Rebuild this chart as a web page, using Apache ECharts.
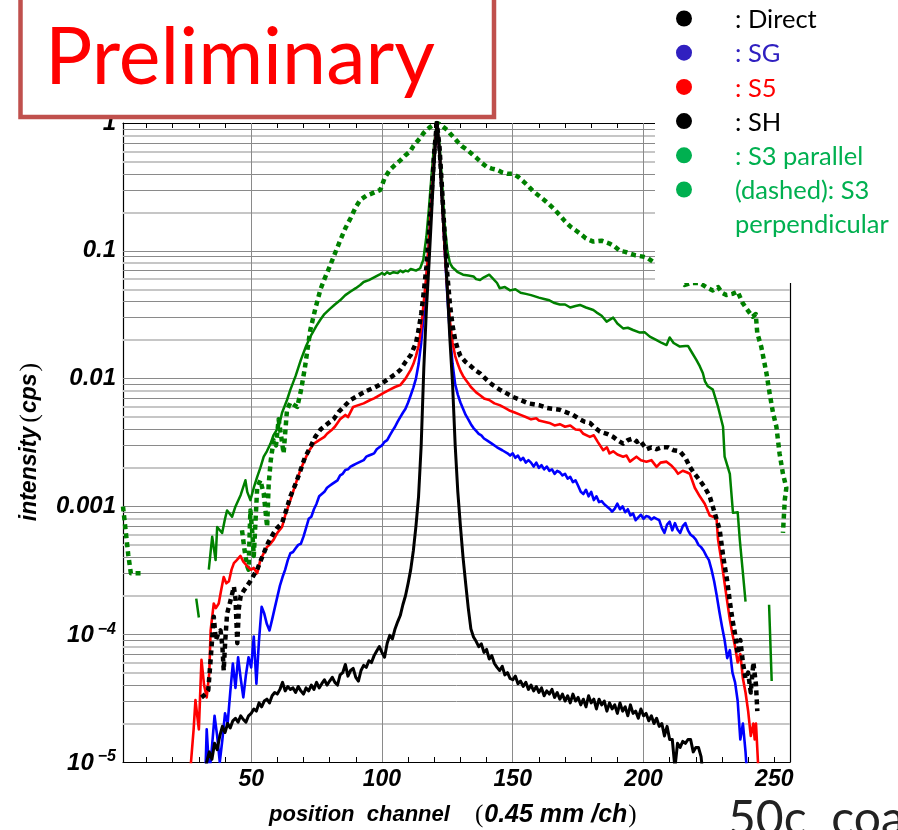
<!DOCTYPE html>
<html>
<head>
<meta charset="utf-8">
<script src="https://cdn.jsdelivr.net/npm/echarts@6/dist/echarts.min.js"></script>
<style>
  html, body { margin: 0; padding: 0; background: #fff; }
  #main { width: 898px; height: 830px; }
</style>
</head>
<body>
<div id="main"></div>
<script>
// channel, intensity (cps)
const direct = [
  [32, 6e-6], [33, 1.0e-5], [34, 1.2e-5], [35, 1.05e-5], [36, 1.4e-5], [37, 1.25e-5], [38, 1.6e-5], [39, 1.9e-5],
  [40, 1.7e-5], [41, 2.0e-5], [42, 1.85e-5], [43, 2.1e-5], [44, 2.2e-5], [45, 2.05e-5], [46, 2.3e-5], [47, 2.15e-5],
  [48, 2.05e-5], [49, 2.3e-5], [50, 2.4e-5], [51, 2.6e-5], [52, 2.5e-5], [53, 2.9e-5], [54, 2.7e-5], [55, 3.0e-5],
  [56, 3.1e-5], [57, 2.9e-5], [58, 3.3e-5], [59, 3.5e-5], [60, 3.4e-5], [61, 3.7e-5], [62, 4.2e-5], [63, 3.6e-5],
  [64, 3.9e-5], [65, 3.7e-5], [66, 3.8e-5], [67, 3.5e-5], [68, 3.9e-5], [69, 3.6e-5], [70, 3.4e-5], [71, 3.8e-5],
  [72, 3.6e-5], [73, 4.0e-5], [74, 3.7e-5], [75, 4.2e-5], [76, 3.8e-5], [77, 4.1e-5], [78, 4.4e-5], [79, 4.0e-5],
  [80, 4.3e-5], [81, 4.6e-5], [82, 4.2e-5], [83, 4.0e-5], [84, 4.8e-5], [85, 5.0e-5], [86, 5.8e-5], [87, 4.7e-5],
  [88, 5.2e-5], [89, 5.4e-5], [90, 4.6e-5], [91, 4.3e-5], [92, 5.2e-5], [93, 5.7e-5], [94, 5.5e-5], [95, 6.2e-5],
  [96, 6.0e-5], [97, 6.8e-5], [98, 7.4e-5], [99, 8.0e-5], [100, 7.2e-5], [101, 6.6e-5], [102, 8.5e-5], [103, 9.8e-5],
  [104, 9.2e-5], [105, 1.1e-4], [106, 1.25e-4], [107, 1.4e-4], [108, 1.7e-4], [109, 2.0e-4], [110, 2.5e-4], [111, 3.2e-4],
  [112, 4.5e-4], [113, 7e-4], [114, 1.2e-3], [115, 3e-3], [116, 1.2e-2], [117, 3.5e-2], [118, 8e-2], [119, 0.2],
  [120, 0.5], [121, 1.0], [122, 0.6], [123, 0.25], [124, 0.12], [125, 0.05], [126, 0.02], [127, 9e-3],
  [128, 3e-3], [129, 1.3e-3], [130, 7e-4], [131, 4e-4], [132, 2.5e-4], [133, 1.6e-4], [134, 1.1e-4], [135, 9.5e-5],
  [136, 8.8e-5], [137, 8.0e-5], [138, 8.4e-5], [139, 7.2e-5], [140, 7.6e-5], [141, 6.4e-5], [142, 6.8e-5], [143, 5.9e-5],
  [144, 5.5e-5], [145, 5.2e-5], [146, 5.6e-5], [147, 4.8e-5], [148, 5.0e-5], [149, 4.5e-5], [150, 4.4e-5], [151, 4.7e-5],
  [152, 4.1e-5], [153, 4.3e-5], [154, 3.9e-5], [155, 4.2e-5], [156, 3.7e-5], [157, 4.0e-5], [158, 3.6e-5], [159, 3.9e-5],
  [160, 3.5e-5], [161, 3.8e-5], [162, 3.3e-5], [163, 3.6e-5], [164, 3.4e-5], [165, 3.7e-5], [166, 3.2e-5], [167, 3.5e-5],
  [168, 3.1e-5], [169, 3.4e-5], [170, 3.0e-5], [171, 3.3e-5], [172, 2.9e-5], [173, 3.4e-5], [174, 3.0e-5], [175, 3.2e-5],
  [176, 2.8e-5], [177, 3.1e-5], [178, 2.7e-5], [179, 3.3e-5], [180, 2.9e-5], [181, 3.1e-5], [182, 2.6e-5], [183, 3.1e-5],
  [184, 2.8e-5], [185, 3.0e-5], [186, 2.5e-5], [187, 2.9e-5], [188, 2.6e-5], [189, 2.8e-5], [190, 2.4e-5], [191, 2.9e-5],
  [192, 2.5e-5], [193, 2.7e-5], [194, 2.3e-5], [195, 2.8e-5], [196, 2.4e-5], [197, 2.5e-5], [198, 2.2e-5], [199, 2.6e-5],
  [200, 2.3e-5], [201, 2.4e-5], [202, 2.1e-5], [203, 2.3e-5], [204, 2.0e-5], [205, 2.2e-5], [206, 1.9e-5], [207, 2.0e-5],
  [208, 1.6e-5], [209, 1.9e-5], [210, 1.5e-5], [211, 1.5e-5], [212, 9e-6], [213, 1.4e-5], [214, 1.3e-5], [215, 1.45e-5],
  [216, 1.4e-5], [217, 1.5e-5], [218, 1.5e-5], [219, 1.2e-5], [220, 1.3e-5], [221, 1.3e-5], [222, 1.1e-5], [223, 7e-6]
];
const sg = [
  [32.5, 8e-6], [33, 1.8e-5], [34, 8e-6], [35, 1.3e-5], [36, 2.3e-5], [37, 1.6e-5], [38, 1.0e-5], [39, 1.5e-5],
  [40, 2.4e-5], [41, 2.0e-5], [42, 3.5e-5], [43, 5.9e-5], [44, 3.8e-5], [45, 6.6e-5], [46, 4.5e-5], [47, 3.2e-5],
  [48, 4.8e-5], [49, 6.6e-5], [50, 5.5e-5], [51, 9.6e-5], [52, 4.1e-5], [53, 9e-5], [54, 1.64e-4], [55, 1.45e-4],
  [56, 1.2e-4], [57, 1.07e-4], [58, 1.3e-4], [59, 1.6e-4], [60, 1.96e-4], [61, 2.4e-4], [62, 2.8e-4], [63, 3.2e-4],
  [64, 3.8e-4], [65, 4.3e-4], [66, 4.4e-4], [67, 4.7e-4], [68, 5.0e-4], [69, 5.1e-4], [70, 5.8e-4], [71, 6.8e-4],
  [72, 8.0e-4], [73, 8.3e-4], [74, 9.5e-4], [75, 1.05e-3], [76, 1.2e-3], [77, 1.25e-3], [78, 1.3e-3], [79, 1.4e-3],
  [80, 1.45e-3], [81, 1.5e-3], [82, 1.55e-3], [83, 1.6e-3], [84, 1.75e-3], [85, 1.8e-3], [86, 1.93e-3], [87, 1.95e-3],
  [88, 2.05e-3], [89, 2.1e-3], [90, 2.15e-3], [91, 2.2e-3], [92, 2.25e-3], [93, 2.3e-3], [94, 2.45e-3], [95, 2.5e-3],
  [96, 2.55e-3], [97, 2.6e-3], [98, 2.8e-3], [99, 2.9e-3], [100, 3.0e-3], [101, 3.2e-3], [102, 3.3e-3], [103, 3.6e-3],
  [104, 3.9e-3], [105, 4.2e-3], [106, 4.6e-3], [107, 5.0e-3], [108, 5.4e-3], [109, 5.8e-3], [110, 6.5e-3], [111, 7.4e-3],
  [112, 8.5e-3], [113, 1.0e-2], [114, 1.3e-2], [115, 1.9e-2], [116, 3.2e-2], [117, 6e-2], [118, 0.12], [119, 0.25],
  [120, 0.55], [121, 1.0], [122, 0.6], [123, 0.25], [124, 0.1], [125, 0.045], [126, 0.022], [127, 0.013],
  [128, 9e-3], [129, 7.5e-3], [130, 6.5e-3], [131, 5.8e-3], [132, 5.2e-3], [133, 4.8e-3], [134, 4.4e-3], [135, 4.1e-3],
  [136, 3.9e-3], [137, 3.7e-3], [138, 3.6e-3], [139, 3.4e-3], [140, 3.3e-3], [142, 3.1e-3], [144, 2.9e-3], [146, 2.75e-3],
  [148, 2.6e-3], [149, 2.5e-3], [150, 2.6e-3], [151, 2.4e-3], [152, 2.5e-3], [153, 2.3e-3], [154, 2.4e-3], [155, 2.2e-3],
  [156, 2.3e-3], [157, 2.2e-3], [158, 2.05e-3], [159, 2.2e-3], [160, 2.0e-3], [161, 2.1e-3], [162, 1.95e-3], [163, 2.05e-3],
  [164, 1.9e-3], [165, 1.95e-3], [166, 1.8e-3], [167, 1.9e-3], [168, 1.85e-3], [169, 1.75e-3], [170, 1.8e-3], [171, 1.65e-3],
  [172, 1.7e-3], [173, 1.55e-3], [174, 1.6e-3], [175, 1.45e-3], [176, 1.3e-3], [177, 1.25e-3], [178, 1.35e-3], [179, 1.2e-3],
  [180, 1.3e-3], [181, 1.12e-3], [182, 1.2e-3], [183, 1.08e-3], [184, 1.1e-3], [185, 1.04e-3], [186, 1.0e-3], [187, 9.6e-4],
  [188, 9.1e-4], [189, 9.6e-4], [190, 1.05e-3], [191, 9.5e-4], [192, 1.0e-3], [193, 9.0e-4], [194, 9.5e-4], [195, 8.5e-4],
  [196, 8.8e-4], [197, 7.8e-4], [198, 8.2e-4], [199, 8.6e-4], [200, 8.0e-4], [201, 8.4e-4], [202, 8.3e-4], [203, 7.9e-4],
  [204, 8.2e-4], [205, 8.0e-4], [206, 7.8e-4], [207, 6.8e-4], [208, 6.2e-4], [209, 7.2e-4], [210, 7.6e-4], [211, 6.5e-4],
  [212, 7.4e-4], [213, 6.6e-4], [214, 6.2e-4], [215, 7.0e-4], [216, 7.4e-4], [217, 6.5e-4], [218, 6.0e-4], [219, 5.8e-4],
  [220, 5.5e-4], [221, 5.0e-4], [222, 4.8e-4], [223, 4.5e-4], [224, 4.1e-4], [225, 3.8e-4], [226, 3.2e-4], [227, 2.6e-4],
  [228, 2.0e-4], [229, 1.5e-4], [230, 1.15e-4], [231, 9e-5], [232, 6.5e-5], [233, 7.5e-5], [234, 5e-5], [235, 4.2e-5],
  [236, 3e-5], [237, 1.5e-5], [238, 2.0e-5], [239, 1.2e-5], [240, 6e-6]
];
const s5 = [
  [26.5, 7e-6], [27, 1e-5], [28, 1.8e-5], [28.7, 3.05e-5], [29.5, 2.2e-5], [30, 1.8e-5], [31, 6.3e-5], [32, 4e-5],
  [33, 3.2e-5], [34, 5e-5], [34.5, 1.07e-4], [35.7, 1.74e-4], [36.5, 1.6e-4], [37.6, 1.74e-4], [38.5, 2.2e-4], [39.5, 2.8e-4],
  [40.5, 2.5e-4], [41.5, 2.6e-4], [42.5, 3.2e-4], [43.4, 3.6e-4], [44.5, 3.8e-4], [45.9, 4.1e-4], [47, 3.7e-4], [48.5, 3.4e-4],
  [50, 3.2e-4], [51, 3.3e-4], [52.3, 3.0e-4], [53.5, 3.8e-4], [54.8, 4.3e-4], [56, 4.8e-4], [57, 5.0e-4], [58.6, 5.5e-4],
  [60, 6.2e-4], [61.8, 6.9e-4], [63, 8.5e-4], [65, 1.12e-3], [67, 1.5e-3], [68.8, 1.92e-3], [70, 2.2e-3], [72, 2.7e-3],
  [74, 3.1e-3], [76, 3.3e-3], [78, 3.5e-3], [79, 3.7e-3], [81, 4.0e-3], [82, 4.2e-3], [84, 4.8e-3], [86, 5.2e-3],
  [87, 5.0e-3], [89, 6.0e-3], [91, 6.2e-3], [93, 6.4e-3], [95.5, 6.8e-3], [97, 7.0e-3], [99, 7.4e-3], [101, 7.8e-3],
  [103, 8.2e-3], [105, 8.6e-3], [107, 8.9e-3], [109, 1.0e-2], [111, 1.17e-2], [112, 1.3e-2], [113, 1.5e-2], [114, 1.8e-2],
  [115, 2.5e-2], [116, 4e-2], [117, 6.5e-2], [118, 0.12], [119, 0.25], [120, 0.55], [121, 1.0], [122, 0.6],
  [123, 0.25], [124, 0.1], [125, 0.05], [126, 0.028], [127, 0.019], [128, 0.015], [129, 0.013], [130, 0.0115],
  [131, 0.0105], [132, 9.8e-3], [133, 9.2e-3], [134, 8.6e-3], [135, 8.2e-3], [136, 7.8e-3], [137.5, 7.4e-3], [139, 7.0e-3],
  [141, 6.8e-3], [143, 6.4e-3], [145, 6.2e-3], [147, 5.9e-3], [149, 5.6e-3], [151, 5.4e-3], [153, 5.2e-3], [155, 5.0e-3],
  [157, 4.8e-3], [159, 4.9e-3], [160, 4.7e-3], [162, 4.6e-3], [164, 4.5e-3], [166, 4.3e-3], [168, 4.4e-3], [170, 4.2e-3],
  [172, 4.3e-3], [174, 4.0e-3], [175.7, 3.97e-3], [177, 3.7e-3], [179.5, 3.5e-3], [181, 3.6e-3], [182.5, 3.2e-3], [184.6, 2.75e-3],
  [186, 2.9e-3], [187, 2.6e-3], [188.4, 2.7e-3], [190, 2.55e-3], [192.2, 2.45e-3], [193.5, 2.5e-3], [194.8, 2.24e-3], [197.3, 2.45e-3],
  [199, 2.3e-3], [201.1, 2.24e-3], [203, 2.3e-3], [205, 2.04e-3], [206.5, 2.2e-3], [208.8, 2.24e-3], [210.5, 2.1e-3], [212, 1.95e-3],
  [213.2, 1.8e-3], [215, 1.9e-3], [216.5, 1.85e-3], [217.7, 1.8e-3], [219.6, 1.4e-3], [221.5, 1.2e-3], [223.4, 1.05e-3], [225.3, 8.5e-4],
  [227.9, 8.1e-4], [228.5, 5.5e-4], [230, 3.5e-4], [231, 2.5e-4], [232, 1.8e-4], [233, 1.3e-4], [234, 1.0e-4], [235, 8e-5],
  [236, 6e-5], [237, 7e-5], [238, 4.5e-5], [239, 3.5e-5], [240, 2.5e-5], [241, 1.6e-5], [242, 2.0e-5], [242.5, 1.5e-5],
  [243, 2e-5], [244, 8e-6]
];
const sh = [
  [31, 3.2e-5], [32.5, 3.4e-5], [33.6, 3.65e-5], [34.5, 6.3e-5], [35.7, 1.37e-4], [36.5, 9e-5], [37.5, 1.02e-4], [38.3, 1.07e-4],
  [39, 8e-5], [39.5, 5.2e-5], [40.1, 9e-5], [40.8, 1.45e-4], [42, 1.8e-4], [43.4, 2.35e-4], [44, 1.9e-4], [44.7, 8.5e-5],
  [45.3, 1.6e-4], [46, 2.0e-4], [47.2, 2.2e-4], [48.5, 2.4e-4], [49.7, 2.6e-4], [51, 2.9e-4], [52.3, 3.2e-4], [53.5, 3.7e-4],
  [54.8, 4.3e-4], [56.5, 5.2e-4], [58.6, 6.2e-4], [60, 6.8e-4], [61.8, 7.4e-4], [63.5, 9.5e-4], [65, 1.2e-3], [67, 1.5e-3],
  [68.8, 1.9e-3], [70.5, 2.4e-3], [72.6, 2.9e-3], [74.5, 3.5e-3], [76.5, 4.0e-3], [79, 4.4e-3], [81.5, 4.8e-3], [83.5, 5.5e-3],
  [85.3, 6.0e-3], [88, 6.8e-3], [91, 7.4e-3], [94, 8.0e-3], [97, 8.5e-3], [99, 8.9e-3], [102, 9.8e-3], [105, 1.08e-2],
  [107, 1.17e-2], [109, 1.35e-2], [111, 1.53e-2], [113, 1.9e-2], [114, 2.4e-2], [115, 3.2e-2], [116, 4.8e-2], [117, 7.5e-2],
  [118, 0.14], [119, 0.28], [120, 0.6], [121, 1.0], [122, 0.65], [123, 0.3], [124, 0.13], [125, 0.065],
  [126, 0.038], [127, 0.026], [128, 0.02], [129, 0.017], [130, 0.015], [132, 0.0135], [134, 0.0125], [136, 0.0115],
  [137.5, 0.011], [140, 9.8e-3], [142, 9.0e-3], [145, 8.2e-3], [148, 7.6e-3], [150, 7.2e-3], [153, 6.8e-3], [156, 6.4e-3],
  [158, 6.3e-3], [160, 6.2e-3], [163, 5.9e-3], [165, 5.8e-3], [168, 5.7e-3], [171, 5.4e-3], [173, 5.2e-3], [175.7, 4.8e-3],
  [177.5, 4.6e-3], [179.5, 4.5e-3], [181, 4.2e-3], [183.3, 3.85e-3], [186, 3.7e-3], [188.4, 3.5e-3], [190, 3.3e-3], [192.2, 3.1e-3],
  [194, 3.3e-3], [196, 3.4e-3], [197.5, 3.2e-3], [198.6, 3.3e-3], [201.1, 2.8e-3], [203, 2.9e-3], [205, 2.8e-3], [207, 2.9e-3],
  [209.4, 2.9e-3], [211.5, 2.75e-3], [213.9, 2.7e-3], [216, 2.4e-3], [217.7, 2.04e-3], [219.5, 1.8e-3], [221.5, 1.6e-3], [223.5, 1.4e-3],
  [225.3, 1.2e-3], [227.2, 8.9e-4], [229.1, 6.6e-4], [230.5, 4e-4], [232, 2.6e-4], [233, 1.8e-4], [234, 1.3e-4], [235, 1.0e-4],
  [236, 7e-5], [237, 9e-5], [238, 6e-5], [239, 4.5e-5], [240, 5e-5], [241, 3.5e-5], [242, 6e-5], [243, 4e-5], [243.5, 2.5e-5]
];
const s3Parallel = [
  [29, 1.9e-4], [30, 1.35e-4], [31, null],
  [33.8, 3.2e-4], [35.1, 5.8e-4], [36.4, 3.8e-4], [37, 6.9e-4], [38.9, 6.2e-4], [40, 8e-4], [40.8, 9.3e-4], [42.7, 8.3e-4],
  [44, 1.0e-3], [46, 1.23e-3], [47.8, 1.6e-3], [48.5, 1.3e-3], [49.7, 1.12e-3], [51, 1.4e-3], [52.3, 1.7e-3], [53.5, 2.0e-3],
  [54.8, 2.45e-3], [56, 2.7e-3], [57.4, 3.1e-3], [58.5, 3.6e-3], [59.9, 4.0e-3], [61, 4.6e-3], [61.8, 5.4e-3], [63.7, 6.8e-3],
  [65, 8.2e-3], [67, 1.05e-2], [69, 1.4e-2], [71, 1.8e-2], [73, 2.2e-2], [75, 2.6e-2], [76.5, 2.9e-2], [78, 3.2e-2],
  [80, 3.5e-2], [82, 3.8e-2], [84, 4.1e-2], [86, 4.5e-2], [88, 4.8e-2], [90, 5.1e-2], [91.7, 5.4e-2], [93, 5.7e-2],
  [95, 5.9e-2], [97, 6.2e-2], [99, 6.5e-2], [100, 6.7e-2], [101, 6.5e-2], [102, 6.8e-2], [103, 6.6e-2], [104.4, 6.8e-2],
  [106, 6.7e-2], [107, 7.0e-2], [108, 6.8e-2], [109, 7.0e-2], [110, 6.9e-2], [111, 7.2e-2], [112, 7.1e-2], [113, 7.0e-2],
  [114.6, 7.3e-2], [115.8, 8.5e-2], [117, 0.13], [118, 0.22], [119, 0.4], [120, 0.7], [121, 1.0], [122, 0.7],
  [123, 0.35], [124, 0.16], [125, 0.1], [126, 0.08], [127, 0.074], [128, 0.071], [129, 0.068], [131, 0.065],
  [133, 0.064], [135, 0.063], [136, 0.06], [137.5, 0.059], [139, 0.062], [141, 0.065], [142, 0.062], [144, 0.056],
  [145, 0.051], [147, 0.052], [149, 0.049], [151, 0.05], [153, 0.047], [155, 0.046], [157, 0.045], [160, 0.043],
  [162, 0.042], [164, 0.041], [166, 0.039], [168, 0.038], [170, 0.038], [172, 0.036], [174, 0.037], [175.7, 0.0377],
  [178, 0.036], [180.8, 0.0344], [182, 0.033], [184, 0.031], [185.9, 0.0279], [188.4, 0.030], [190, 0.027], [192.2, 0.0247],
  [194, 0.025], [196, 0.024], [198.6, 0.0229], [200.5, 0.023], [202.4, 0.0213], [205, 0.02], [207, 0.019], [208.8, 0.0183],
  [210, 0.021], [211.5, 0.019], [213.9, 0.0178], [216, 0.018], [217, 0.018], [218.5, 0.016], [220.2, 0.014], [221.5, 0.0125],
  [222.7, 0.011], [223.5, 0.0095], [224.6, 8.7e-3], [226.5, 8.2e-3], [228.5, 6.0e-3], [230.4, 4.2e-3], [231, 2.45e-3], [233, 1.8e-3],
  [234.2, 8.9e-4], [236, 9e-4], [236.8, 5.5e-4], [238, 3e-4], [239, 1.8e-4], [240, null],
  [245, 1.7e-4], [246, null], [248, 1.7e-4], [249, 4.3e-5]
];
const s3Perpendicular = [
  [1, 1.0e-3], [2, 6.5e-4], [3, 4.2e-4], [4, 3e-4], [6, 3e-4], [8.5, 3e-4], [9, null],
  [46.5, 6.5e-4], [47.5, 4.5e-4], [48.5, 3.4e-4], [49, 3.2e-4], [49.7, 9.3e-4], [50.5, 6e-4], [51, 4.1e-4], [52.3, 1.4e-3],
  [53.5, 1.6e-3], [54.8, 1.26e-3], [56.1, 6.9e-4], [56.7, 1.5e-3], [57.5, 2.3e-3], [58.6, 3.3e-3], [59.5, 3.0e-3], [60.5, 4.8e-3],
  [61.5, 3.5e-3], [62.4, 2.6e-3], [63.7, 5.7e-3], [65, 6.5e-3], [66.5, 6.2e-3], [67.6, 6.0e-3], [69, 8e-3], [70.5, 1.2e-2],
  [72.6, 2.4e-2], [74.5, 3.5e-2], [76.5, 5e-2], [78, 6e-2], [80, 7.5e-2], [82, 9.5e-2], [84, 0.12], [86, 0.15],
  [88, 0.18], [90, 0.22], [91.7, 0.25], [94, 0.27], [96, 0.28], [99.4, 0.3], [101, 0.37], [103, 0.43],
  [105, 0.47], [107, 0.51], [109, 0.56], [110.8, 0.6], [112, 0.66], [113.3, 0.71], [115, 0.78], [115.8, 0.83],
  [117, 0.88], [118.4, 0.93], [120, 0.98], [121, 1.0], [122, 0.98], [123.5, 0.93], [125, 0.88], [126, 0.83],
  [127.5, 0.77], [129, 0.71], [130.5, 0.66], [132.4, 0.62], [134.5, 0.57], [136.3, 0.53], [138, 0.49], [140, 0.455],
  [142, 0.44], [144, 0.43], [146, 0.41], [148, 0.40], [150, 0.40], [152, 0.38], [154, 0.35], [156, 0.32],
  [158, 0.29], [160, 0.27], [162, 0.25], [164, 0.23], [166, 0.21], [168, 0.19], [170, 0.17], [172, 0.155],
  [174, 0.145], [176, 0.135], [178, 0.125], [180.8, 0.118], [184, 0.12], [187, 0.114], [189, 0.108], [191, 0.1],
  [193, 0.098], [194.8, 0.095], [197, 0.092], [199.8, 0.09], [201.5, 0.088], [203.7, 0.082], [205, 0.08], [207, 0.075],
  [209, 0.072], [212, 0.065], [214, 0.06], [215.8, 0.054], [218, 0.056], [221.5, 0.056], [224, 0.052], [226.5, 0.049],
  [228.5, 0.052], [230, 0.047], [231.7, 0.045], [234, 0.046], [236, 0.048], [237.9, 0.039], [239.5, 0.035], [241.7, 0.0305],
  [242.9, 0.032], [243.5, 0.0226], [245, 0.0178], [246, 0.014], [247, 0.011], [248.2, 7.7e-3], [249.5, 5.4e-3], [250.8, 4.2e-3],
  [252, 2.6e-3], [253.3, 1.8e-3], [254.6, 1.4e-3], [254, 1.12e-3], [253.3, 6.2e-4]
];

const xTickValues = [10, 20, 30, 40, 50, 60, 70, 80, 90, 100, 110, 120, 130, 140, 150, 160, 170, 180, 190, 200, 210, 220, 230, 240, 250];
const xLabelValues = [50, 100, 150, 200, 250];
const xGridValues = [50, 100, 150, 200];
const decades = [1e-5, 1e-4, 1e-3, 1e-2, 1e-1];
const mantissas = [1, 2, 3, 4, 5, 6, 7, 8, 9];
const lightMantissas = [2, 5, 6, 8];

const legendRows = [
  { text: ': Direct', color: '#000000' },
  { text: ': SG', color: '#3020c0' },
  { text: ': S5', color: '#ff0000' },
  { text: ': SH', color: '#000000' },
  { text: ': S3 parallel', color: '#00b050' },
  { text: '(dashed): S3', color: '#00b050' },
  { text: 'perpendicular', color: '#00b050', noDot: true }
];

const tickFont = '"Liberation Sans", Arial, sans-serif';
const boxFont = 'Lato, "Open Sans", sans-serif';
const X_MIN = 1, X_MAX = 256;

// gridlines like Mathematica's GridLines: one per mantissa in each decade
const gridLines = [];
decades.forEach(d => {
  mantissas.forEach(m => {
    if (d === 1e-5 && m === 1) return;
    const light = lightMantissas.indexOf(m) >= 0;
    const v = m * d;
    gridLines.push([
      { coord: [X_MIN, v], lineStyle: { color: light ? '#c6c6c6' : '#8a8a8a', width: light ? 2 : 1, type: 'solid' } },
      { coord: [X_MAX, v] }
    ]);
  });
});
xGridValues.forEach(v => {
  gridLines.push([
    { coord: [v, 1e-5], lineStyle: { color: '#8a8a8a', width: 1, type: 'solid' } },
    { coord: [v, 1] }
  ]);
});

function yLabel(v) {
  const e = Math.round(Math.log10(v));
  if (e === 0) return '1';
  if (e >= -3) return '0.' + '0'.repeat(-e - 1) + '1';
  return '{b|10}{s|\u2212' + (-e) + '}';
}

function lineSeries(name, data, color, width, dotted, z) {
  return {
    name: name,
    type: 'line',
    data: data,
    showSymbol: false,
    symbol: 'none',
    connectNulls: false,
    clip: true,
    z: z,
    lineStyle: {
      color: color,
      width: width,
      type: dotted ? [5, 4] : 'solid',
      cap: 'butt',
      join: 'round'
    }
  };
}

const legendGraphics = [];
legendRows.forEach((row, i) => {
  const cy = 18.5 + i * 34.2;
  if (!row.noDot) {
    legendGraphics.push({
      type: 'circle', shape: { cx: 684, cy: cy, r: 8 },
      style: { fill: row.color }, z: 101
    });
  }
  legendGraphics.push({
    type: 'text', x: 735, y: cy + 1.5,
    style: { text: row.text, fill: row.color, font: '25.5px ' + boxFont, verticalAlign: 'middle', align: 'left' },
    z: 101
  });
});

const chart = echarts.init(document.getElementById('main'));

const option = {
  backgroundColor: '#fff',
  animation: false,
  grid: { left: 123, top: 123, width: 667, height: 639 },
  xAxis: [
    {
      type: 'value', min: X_MIN, max: X_MAX, position: 'bottom',
      axisLine: { show: true, onZero: false, lineStyle: { color: '#000', width: 1.2 } },
      axisTick: { show: true, inside: true, length: 5, customValues: xTickValues, lineStyle: { color: '#000', width: 1 } },
      axisLabel: {
        customValues: xLabelValues, margin: 6,
        color: '#000', fontFamily: tickFont, fontSize: 23, fontWeight: 'bold', fontStyle: 'italic'
      },
      splitLine: { show: false }
    },
    {
      type: 'value', min: X_MIN, max: X_MAX, position: 'top',
      axisLine: { show: true, onZero: false, lineStyle: { color: '#000', width: 1.2 } },
      axisTick: { show: true, inside: true, length: 5, customValues: xTickValues, lineStyle: { color: '#000', width: 1 } },
      axisLabel: { show: false },
      splitLine: { show: false }
    }
  ],
  yAxis: [
    {
      type: 'log', logBase: 10, min: 1e-5, max: 1, position: 'left',
      axisLine: { show: true, onZero: false, lineStyle: { color: '#000', width: 1.2 } },
      axisTick: { show: false },
      splitLine: { show: false },
      axisLabel: {
        margin: 7, showMinLabel: true, showMaxLabel: true,
        color: '#000', fontFamily: tickFont, fontSize: 24, fontWeight: 'bold', fontStyle: 'italic',
        formatter: yLabel,
        rich: {
          b: { fontFamily: tickFont, fontSize: 24, fontWeight: 'bold', fontStyle: 'italic', color: '#000', verticalAlign: 'bottom' },
          s: { fontFamily: tickFont, fontSize: 16, fontWeight: 'bold', fontStyle: 'italic', color: '#000', verticalAlign: 'bottom', padding: [0, 0, 10, 4] }
        }
      }
    },
    {
      type: 'log', logBase: 10, min: 1e-5, max: 1, position: 'right',
      axisLine: { show: true, onZero: false, lineStyle: { color: '#000', width: 1.2 } },
      axisTick: { show: false },
      axisLabel: { show: false },
      splitLine: { show: false }
    }
  ],
  series: [
    {
      name: 'grid', type: 'line', data: [], z: 1, silent: true,
      markLine: { z: 1, silent: true, precision: 10, symbol: ['none', 'none'], label: { show: false }, animation: false, data: gridLines }
    },
    lineSeries('S3 perpendicular', s3Perpendicular, '#008000', 4.5, true, 10),
    lineSeries('S3 parallel', s3Parallel, '#008000', 2.5, false, 11),
    lineSeries('SG', sg, '#0000ff', 2.6, false, 12),
    lineSeries('S5', s5, '#ff0000', 2.6, false, 13),
    lineSeries('SH', sh, '#000000', 4.5, true, 14),
    lineSeries('Direct', direct, '#000000', 3, false, 15)
  ],
  graphic: [
    // white area behind the legend hides the plot's top right corner
    { type: 'rect', shape: { x: 655, y: 0, width: 243, height: 283 }, style: { fill: '#fff' }, z: 100 },
    // "Preliminary" stamp
    {
      type: 'rect', shape: { x: 20.5, y: -10, width: 473.5, height: 127 },
      style: { fill: '#fff', stroke: '#c0504d', lineWidth: 4.5 }, z: 100
    },
    {
      type: 'text', x: 45, y: 59,
      style: { text: 'Preliminary', fill: '#ff0000', font: '79px ' + boxFont, verticalAlign: 'middle', align: 'left' },
      z: 101
    },
    // axis titles
    {
      type: 'text', x: 269, y: 815,
      style: {
        text: '{a|position  channel}{pl|(}{b|0.45 mm /ch}{pr|)}',
        verticalAlign: 'middle', align: 'left',
        rich: {
          a: { fontFamily: tickFont, fontSize: 22, fontWeight: 'bold', fontStyle: 'italic', fill: '#000' },
          b: { fontFamily: tickFont, fontSize: 25, fontWeight: 'bold', fontStyle: 'italic', fill: '#000' },
          pl: { fontFamily: '"Liberation Serif", serif', fontSize: 25, fill: '#000', padding: [0, 1, 0, 25] },
          pr: { fontFamily: '"Liberation Serif", serif', fontSize: 25, fill: '#000', padding: [0, 0, 0, 1] }
        }
      },
      z: 101
    },
    {
      type: 'text', x: 30, y: 442, rotation: Math.PI / 2,
      style: {
        text: '{a|intensity}{pl|(}{a|cps}{pr|)}',
        verticalAlign: 'middle', align: 'center',
        rich: {
          a: { fontFamily: tickFont, fontSize: 23, fontWeight: 'bold', fontStyle: 'italic', fill: '#000' },
          pl: { fontFamily: '"Liberation Serif", serif', fontSize: 26, fill: '#000', padding: [0, 1, 0, 4] },
          pr: { fontFamily: '"Liberation Serif", serif', fontSize: 26, fill: '#000', padding: [0, 0, 0, 2] }
        }
      },
      z: 101
    },
    // slide text cut off at the bottom right
    {
      type: 'text', x: 728, y: 796,
      style: { text: '50c  coating', fill: '#222', font: '48px ' + boxFont, verticalAlign: 'top', align: 'left' },
      z: 101
    }
  ].concat(legendGraphics)
};

chart.setOption(option);
</script>
</body>
</html>
